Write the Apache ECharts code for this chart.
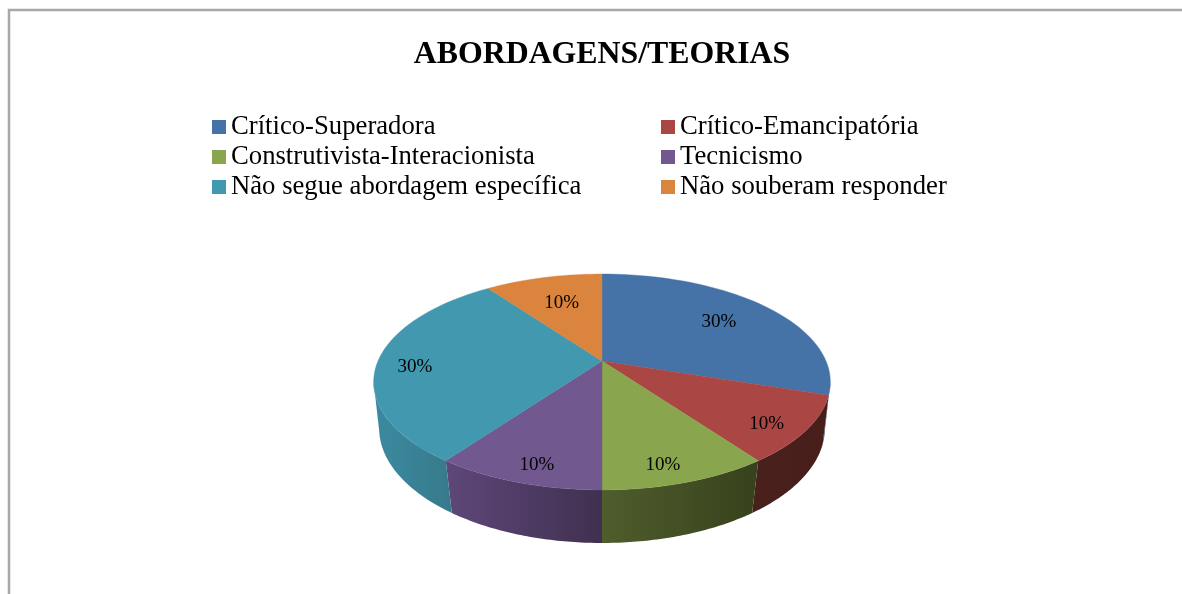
<!DOCTYPE html>
<html>
<head>
<meta charset="utf-8">
<style>html,body{margin:0;padding:0;background:#fff}#c{width:1182px;height:594px}</style>
<script src="https://cdn.jsdelivr.net/npm/echarts@6/dist/echarts.min.js"></script>
</head>
<body>
<div id="c"></div>
<script>
const titleText = 'ABORDAGENS/TEORIAS';
const categories = ['Crítico-Superadora','Crítico-Emancipatória','Construtivista-Interacionista','Tecnicismo','Não segue abordagem específica','Não souberam responder'];
const values = [30,10,10,10,30,10];
const topColors = ['#4572A7','#AA4643','#89A54E','#71588F','#4198AF','#DB843D'];
const sideLeft = ['#2f4d73','#4a201c','#4f5d2c','#5e477a','#3c8aa0','#94582a'];
const sideRight = ['#2b4668','#471e1a','#37411c','#40304f','#367a8c','#94582a'];
const labelNudge = [[-16,6],[5,9],[-4,11],[0,11],[-8,6],[8,11]];

const cx = 602;
const rimTop = {d:224, a:33.7, b:361, k:-0.1944};
const rimBottom = {d:219.5, a:40.5, b:408, k:-0.174};
const total = values.reduce((s,v)=>s+v,0);
function project(rim, deg, r){
  const t = deg*Math.PI/180, u = r*Math.sin(t), v = -r*Math.cos(t), w = 1+rim.k*v;
  return [cx + rim.d*u/w, (rim.a*v+rim.b)/w];
}
function arc(rim, from, to){
  const pts = [], n = 48;
  for(let i=0;i<=n;i++) pts.push(project(rim, from+(to-from)*i/n, 1));
  return pts;
}
const silA = 101.2, silB = 258.8;

function renderSlice(params, api){
  const idx = params.seriesIndex;
  let before = 0;
  for(let i=0;i<idx;i++) before += values[i];
  const val = api.value(0);
  const start = before/total*360, end = (before+val)/total*360;
  const children = [];
  const sa = Math.max(start, silA), sb = Math.min(end, silB);
  if(sb > sa){
    const pts = arc(rimTop, sa, sb).concat(arc(rimBottom, sa, sb).reverse());
    const grad = new echarts.graphic.LinearGradient(0,0,1,0,[
      {offset:0,color:sideLeft[idx]},{offset:1,color:sideRight[idx]}]);
    children.push({type:'polygon',shape:{points:pts},style:{fill:grad},z2:1});
  }
  const top = [project(rimTop,0,0)].concat(arc(rimTop,start,end));
  children.push({type:'polygon',shape:{points:top},
    style:{fill:topColors[idx],stroke:topColors[idx],lineWidth:0.4},z2:2});
  const p = project(rimTop,(start+end)/2,0.8);
  children.push({type:'text',z2:3,
    x:p[0]+labelNudge[idx][0], y:p[1]+labelNudge[idx][1],
    style:{text:val+'%',fill:'#000',align:'center',verticalAlign:'middle',
      font:'19px "Liberation Serif"'}});
  return {type:'group',children};
}

const legendBase = {
  orient:'vertical', top:112, itemWidth:14, itemHeight:14, itemGap:0, icon:'rect',
  selectedMode:false, padding:0,
  textStyle:{fontFamily:'Liberation Serif',fontSize:26.7,color:'#000',padding:[0,0,0,0],lineHeight:30}
};
const chart = echarts.init(document.getElementById('c'),null,{renderer:'canvas'});
chart.setOption({
  animation:false,
  backgroundColor:'#fff',
  title:{text:titleText,left:602,top:39,textAlign:'center',
    textStyle:{fontFamily:'Liberation Serif',fontWeight:'bold',fontSize:31.8,color:'#000'},padding:0},
  legend:[
    Object.assign({},legendBase,{left:212,data:categories.filter((_,i)=>i%2===0)}),
    Object.assign({},legendBase,{left:661,data:categories.filter((_,i)=>i%2===1)})
  ],
  graphic:[{type:'rect',silent:true,z:-1,shape:{x:9,y:10,width:1400,height:900},
    style:{fill:null,stroke:'#a8a8a8',lineWidth:2.5}}],
  series:categories.map((name,i)=>({
    type:'custom',name,coordinateSystem:'none',
    itemStyle:{color:topColors[i]},
    data:[[values[i]]],
    renderItem:renderSlice
  }))
});
</script>
</body>
</html>
